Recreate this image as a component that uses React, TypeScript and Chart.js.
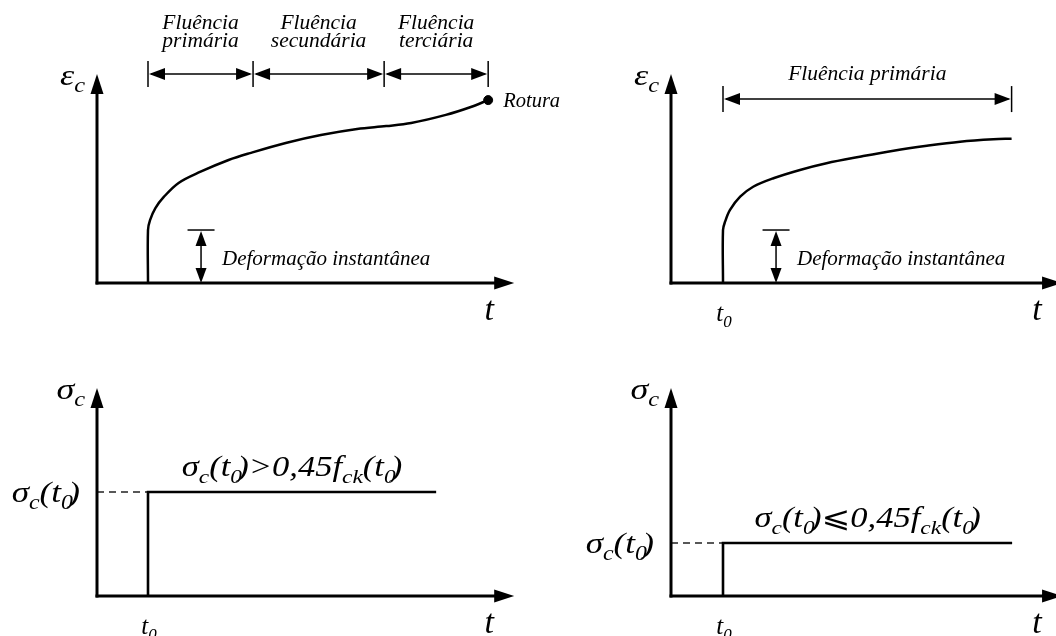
import { useEffect, useRef } from "react";
import { Chart, registerables } from "chart.js";

Chart.register(...registerables);

const SERIF = '"Liberation Serif", "Times New Roman", "DejaVu Serif", "DejaVu Sans", serif';
const INK = "#000";

// Loading age and the instantaneous (elastic) strain it produces
const t0 = 1;
const instantStrain = 2.61;
const instantLabel = "Deformação instantânea";

// Creep under σc(t0) > 0,45 fck(t0): primary, secondary and tertiary creep until rupture
const creepTimeHigh = [1.04, 1.145, 1.31, 1.6, 2.02, 2.58, 3.0, 3.7, 4.39, 5.1, 5.67, 6.16, 6.84, 7.33, 7.67];
const creepStrainHigh = [3.1, 3.69, 4.24, 4.93, 5.47, 6.06, 6.4, 6.9, 7.29, 7.59, 7.73, 7.88, 8.28, 8.67, 9.01];
const creepStageBounds = [1, 3.06, 5.63, 7.67];
const creepStageNames = [
  ["Fluência", "primária"],
  ["Fluência", "secundária"],
  ["Fluência", "terciária"],
];
const ruptureLabel = "Rotura";

// Creep under σc(t0) ≤ 0,45 fck(t0): primary creep only
const creepTimeLow = [1.04, 1.135, 1.33, 1.58, 1.97, 2.48, 2.99, 3.63, 4.28, 4.92, 5.56, 6.2, 6.55];
const creepStrainLow = [3.02, 3.6, 4.25, 4.74, 5.16, 5.57, 5.9, 6.22, 6.52, 6.76, 6.96, 7.08, 7.11];
const primaryStageBounds = [1, 6.55];
const primaryStageNames = [["Fluência primária"]];

// Constant stress histories applied at t0
const stressHigh = 5.12;
const stressLow = 2.61;
const stressEndHigh = 6.65;
const stressEndLow = 6.56;

type Run = { s: string; sub?: boolean; kern?: number };
type Px = (v: number) => number;
type Layout = { ox: number; oy: number; kx: number; ky: number };

const PAGE_W = 1056;
const PAGE_H = 636;

const italic = (size: number) => `italic ${size}px ${SERIF}`;

// Draws a run of italic text with subscripts; sx widens the glyphs horizontally
function drawRuns(
  ctx: CanvasRenderingContext2D,
  runs: Run[],
  x: number,
  y: number,
  size: number,
  align: "left" | "center" | "right",
  sx = 1
) {
  const subSize = size * 0.68;
  ctx.textAlign = "left";
  const widths = runs.map((r) => {
    ctx.font = italic(r.sub ? subSize : size);
    return (ctx.measureText(r.s).width + (r.kern || 0)) * sx;
  });
  const total = widths.reduce((a, b) => a + b, 0);
  let cx = align === "center" ? x - total / 2 : align === "right" ? x - total : x;
  runs.forEach((r, i) => {
    ctx.font = italic(r.sub ? subSize : size);
    ctx.save();
    ctx.translate(cx, y + (r.sub ? size * 0.24 : 0));
    ctx.scale(sx, 1);
    ctx.fillText(r.s, 0, 0);
    ctx.restore();
    cx += widths[i];
  });
}

function arrowHead(ctx: CanvasRenderingContext2D, x: number, y: number, dx: number, dy: number, len: number, half: number) {
  const px = -dy;
  const py = dx;
  ctx.beginPath();
  ctx.moveTo(x, y);
  ctx.lineTo(x - dx * len + px * half, y - dy * len + py * half);
  ctx.lineTo(x - dx * len - px * half, y - dy * len - py * half);
  ctx.closePath();
  ctx.fill();
}

function line(ctx: CanvasRenderingContext2D, x1: number, y1: number, x2: number, y2: number) {
  ctx.beginPath();
  ctx.moveTo(x1, y1);
  ctx.lineTo(x2, y2);
  ctx.stroke();
}

function drawAxes(ctx: CanvasRenderingContext2D, X: Px, Y: Px, xTip: number, yTip: number) {
  const x0 = X(0);
  const y0 = Y(0);
  ctx.lineWidth = 3;
  line(ctx, x0 - 1.5, y0, X(xTip) - 15, y0);
  line(ctx, x0, y0 + 1.5, x0, Y(yTip) + 15);
  arrowHead(ctx, X(xTip), y0, 1, 0, 20, 6.5);
  arrowHead(ctx, x0, Y(yTip), 0, -1, 20, 6.5);
}

function drawAxisName(ctx: CanvasRenderingContext2D, X: Px, Y: Px, yTip: number, symbol: string, size: number) {
  drawRuns(ctx, [{ s: symbol }, { s: "c", sub: true }], X(0) - 12, Y(yTip) + 11, size, "right", 1.2);
}

function drawTimeName(ctx: CanvasRenderingContext2D, X: Px, Y: Px, xTip: number) {
  drawRuns(ctx, [{ s: "t" }], X(xTip) - 25, Y(0) + 37, 34, "center");
}

function drawT0(ctx: CanvasRenderingContext2D, X: Px, Y: Px) {
  drawRuns(ctx, [{ s: "t" }, { s: "0", sub: true }], X(t0) + 1, Y(0) + 38, 25, "center");
}

function drawSpans(
  ctx: CanvasRenderingContext2D,
  X: Px,
  Y: Px,
  bounds: number[],
  level: number,
  names: string[][],
  baselines: number[],
  size: number
) {
  const y = Y(level);
  ctx.lineWidth = 1.5;
  bounds.forEach((b) => line(ctx, X(b), y - 13, X(b), y + 13));
  for (let i = 0; i < bounds.length - 1; i++) {
    const a = X(bounds[i]);
    const b = X(bounds[i + 1]);
    line(ctx, a + 3, y, b - 3, y);
    arrowHead(ctx, a + 1, y, -1, 0, 16, 6);
    arrowHead(ctx, b - 1, y, 1, 0, 16, 6);
    names[i].forEach((txt, j) => drawRuns(ctx, [{ s: txt }], (a + b) / 2, y + baselines[j], size, "center"));
  }
}

function drawInstant(ctx: CanvasRenderingContext2D, X: Px, Y: Px, at: number, value: number) {
  const x = X(at);
  const yt = Y(value);
  const yb = Y(0);
  ctx.lineWidth = 1.5;
  line(ctx, x - 13.5, yt, x + 13.5, yt);
  line(ctx, x, yt + 4, x, yb - 4);
  arrowHead(ctx, x, yt + 1, 0, -1, 15, 5.5);
  arrowHead(ctx, x, yb, 0, 1, 15, 5.5);
  drawRuns(ctx, [{ s: instantLabel }], x + 21, yb - 18, 21, "left");
}

function stressLabel(ctx: CanvasRenderingContext2D, X: Px, Y: Px, level: number) {
  drawRuns(
    ctx,
    [{ s: "σ" }, { s: "c", sub: true }, { s: "(t" }, { s: "0", sub: true, kern: -4 }, { s: ")" }],
    X(0) - 17,
    Y(level) + 10,
    30,
    "right",
    1.17
  );
}

function stressCondition(ctx: CanvasRenderingContext2D, X: Px, Y: Px, level: number, end: number, rel: string) {
  drawRuns(
    ctx,
    [
      { s: "σ" },
      { s: "c", sub: true },
      { s: "(t" },
      { s: "0", sub: true, kern: -4 },
      { s: `)${rel}0,45f` },
      { s: "ck", sub: true },
      { s: "(t" },
      { s: "0", sub: true, kern: -4 },
      { s: ")" },
    ],
    (X(t0) + X(end)) / 2,
    Y(level) - 16,
    29,
    "center",
    1.19
  );
}

function curveData(times: number[], values: number[]) {
  return [{ x: t0, y: 0 }, { x: t0, y: instantStrain }, ...times.map((t, i) => ({ x: t, y: values[i] }))];
}

const lineStyle = { showLine: true, borderColor: INK, pointRadius: 0, fill: false };

type PanelProps = { layout: Layout; datasets: any[]; paint: (ctx: CanvasRenderingContext2D, X: Px, Y: Px) => void };

// One chart per diagram; every canvas covers the page so labels may run past the quadrant
function Panel({ layout, datasets, paint }: PanelProps) {
  const ref = useRef<HTMLCanvasElement>(null);
  useEffect(() => {
    const { ox, oy, kx, ky } = layout;
    const chart = new Chart(ref.current as HTMLCanvasElement, {
      type: "scatter",
      data: { datasets },
      options: {
        animation: false,
        responsive: false,
        devicePixelRatio: 1,
        events: [],
        layout: { padding: 0, autoPadding: false },
        plugins: { legend: { display: false }, tooltip: { enabled: false }, title: { display: false } },
        scales: {
          x: { type: "linear", display: false, min: -ox / kx, max: (PAGE_W - ox) / kx },
          y: { type: "linear", display: false, min: -(PAGE_H - oy) / ky, max: oy / ky },
        },
      },
      plugins: [
        {
          id: "annotate",
          afterDatasetsDraw(c: any) {
            const ctx = c.ctx as CanvasRenderingContext2D;
            const X = (v: number) => c.scales.x.getPixelForValue(v);
            const Y = (v: number) => c.scales.y.getPixelForValue(v);
            ctx.save();
            ctx.fillStyle = INK;
            ctx.strokeStyle = INK;
            ctx.lineCap = "butt";
            ctx.textBaseline = "alphabetic";
            paint(ctx, X, Y);
            ctx.restore();
          },
        },
      ],
    });
    return () => chart.destroy();
  }, []);
  return (
    <canvas
      ref={ref}
      width={PAGE_W}
      height={PAGE_H}
      style={{ position: "absolute", left: 0, top: 0, width: PAGE_W, height: PAGE_H }}
    />
  );
}

const layouts: Record<string, Layout> = {
  strainHigh: { ox: 97, oy: 283, kx: 51, ky: 20.3 },
  strainLow: { ox: 671, oy: 283, kx: 52, ky: 20.3 },
  stressHigh: { ox: 97, oy: 596, kx: 51, ky: 20.3 },
  stressLow: { ox: 671, oy: 596, kx: 52, ky: 20.3 },
};

export default function App() {
  const lastT = creepTimeHigh[creepTimeHigh.length - 1];
  const lastE = creepStrainHigh[creepStrainHigh.length - 1];
  return (
    <div style={{ position: "absolute", left: 0, top: 0, width: PAGE_W, height: PAGE_H, overflow: "hidden", background: "#fff" }}>
      <Panel
        layout={layouts.strainHigh}
        datasets={[
          { ...lineStyle, data: curveData(creepTimeHigh, creepStrainHigh), borderWidth: 2.5, tension: 0.35 },
          { data: [{ x: lastT, y: lastE }], pointRadius: 4.5, backgroundColor: INK, borderColor: INK, showLine: false },
        ]}
        paint={(ctx, X, Y) => {
          drawAxes(ctx, X, Y, 8.18, 10.3);
          drawAxisName(ctx, X, Y, 10.3, "ε", 30);
          drawTimeName(ctx, X, Y, 8.18);
          drawSpans(ctx, X, Y, creepStageBounds, 10.3, creepStageNames, [-45, -27], 21.5);
          drawInstant(ctx, X, Y, 2.04, instantStrain);
          drawRuns(ctx, [{ s: ruptureLabel }], X(lastT) + 15, Y(lastE) + 7, 20.5, "left");
        }}
      />
      <Panel
        layout={layouts.strainLow}
        datasets={[{ ...lineStyle, data: curveData(creepTimeLow, creepStrainLow), borderWidth: 2.5, tension: 0.35 }]}
        paint={(ctx, X, Y) => {
          drawAxes(ctx, X, Y, 7.52, 10.3);
          drawAxisName(ctx, X, Y, 10.3, "ε", 30);
          drawTimeName(ctx, X, Y, 7.52);
          drawT0(ctx, X, Y);
          drawSpans(ctx, X, Y, primaryStageBounds, 9.06, primaryStageNames, [-19], 21.5);
          drawInstant(ctx, X, Y, 2.02, instantStrain);
        }}
      />
      <Panel
        layout={layouts.stressHigh}
        datasets={[
          { ...lineStyle, data: [{ x: t0, y: 0 }, { x: t0, y: stressHigh }, { x: stressEndHigh, y: stressHigh }], borderWidth: 2.6, tension: 0 },
          { ...lineStyle, data: [{ x: 0, y: stressHigh }, { x: t0, y: stressHigh }], borderWidth: 1.5, borderDash: [7, 5], borderColor: "#222" },
        ]}
        paint={(ctx, X, Y) => {
          drawAxes(ctx, X, Y, 8.18, 10.25);
          drawAxisName(ctx, X, Y, 10.25, "σ", 30);
          drawTimeName(ctx, X, Y, 8.18);
          drawT0(ctx, X, Y);
          stressLabel(ctx, X, Y, stressHigh);
          stressCondition(ctx, X, Y, stressHigh, stressEndHigh, ">");
        }}
      />
      <Panel
        layout={layouts.stressLow}
        datasets={[
          { ...lineStyle, data: [{ x: t0, y: 0 }, { x: t0, y: stressLow }, { x: stressEndLow, y: stressLow }], borderWidth: 2.6, tension: 0 },
          { ...lineStyle, data: [{ x: 0, y: stressLow }, { x: t0, y: stressLow }], borderWidth: 1.5, borderDash: [7, 5], borderColor: "#222" },
        ]}
        paint={(ctx, X, Y) => {
          drawAxes(ctx, X, Y, 7.52, 10.25);
          drawAxisName(ctx, X, Y, 10.25, "σ", 30);
          drawTimeName(ctx, X, Y, 7.52);
          drawT0(ctx, X, Y);
          stressLabel(ctx, X, Y, stressLow);
          stressCondition(ctx, X, Y, stressLow, stressEndLow, "⩽");
        }}
      />
    </div>
  );
}
